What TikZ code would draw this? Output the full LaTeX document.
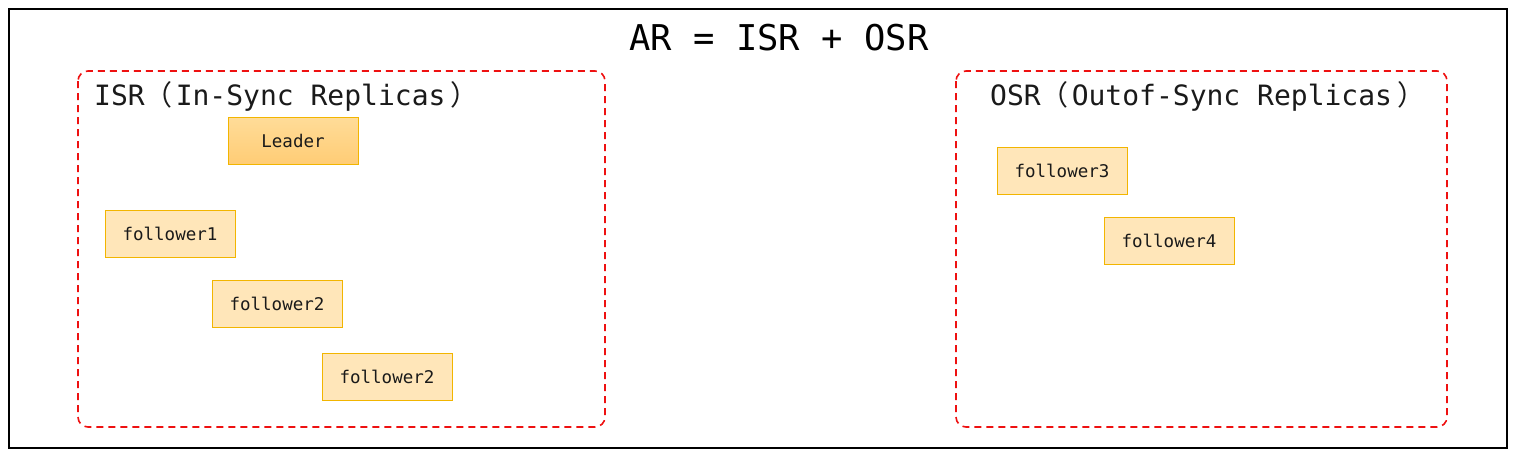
\documentclass[tikz,border=0pt]{standalone}
\usepackage{fontspec}
\setmonofont{DejaVu Sans Mono}
\newfontfamily\cjk{Noto Sans CJK SC}
\usepackage{xcolor}
\usetikzlibrary{positioning}

\definecolor{frameRed}{HTML}{EE1111}
\definecolor{boxEdge}{HTML}{F2B500}
\definecolor{boxFill}{HTML}{FFE6B9}
\definecolor{leadTop}{HTML}{FFDC98}
\definecolor{leadBot}{HTML}{FFCC75}
\definecolor{inkGray}{HTML}{1A1A1A}

\begin{document}
\begin{tikzpicture}[x=1pt,y=-1pt,
                    group box/.style={draw=frameRed,line width=1.6pt,dashed,dash pattern=on 7pt off 5pt,rounded corners=10pt},
                    replica/.style={rectangle,draw=boxEdge,fill=boxFill,line width=0.8pt,minimum width=130pt,minimum height=47pt,
                                    text=inkGray,font=\ttfamily\fontsize{17.5}{19}\selectfont},
                    lead node/.style={replica,top color=leadTop,bottom color=leadBot},
                    group label/.style={anchor=base west,inner sep=0pt,text=inkGray,font=\ttfamily\fontsize{28}{30}\selectfont}]
      \useasboundingbox (0,0) rectangle (1514,456);
      \draw[line width=1.6pt] (9,9) rectangle (1507,448);

      \node[anchor=base,inner sep=0pt,font=\ttfamily\fontsize{35.5}{40}\selectfont] (title) at (779,50) {AR = ISR + OSR};

      % in-sync group
      \draw[group box] (78,71) rectangle (605,427);
      \node[group label] (isr) at (94,105) {ISR{\cjk （}\hspace{3pt}In-Sync Replicas\hspace{5pt}{\cjk ）}};
      \node[lead node] (leader) at (293,141) {Leader};
      \node[replica] (f1) at (170,234) {follower1};
      \node[replica] (f2) at (277,304) {follower2};
      \node[replica] (f2b) at (387,377) {follower2};

      % out-of-sync group
      \draw[group box] (956,71) rectangle (1447,427);
      \node[group label] (osr) at (990,105) {OSR{\cjk （}\hspace{3pt}Outof-Sync Replicas\hspace{5pt}{\cjk ）}};
      \node[replica] (f3) at (1062,171) {follower3};
      \node[replica] (f4) at (1169,241) {follower4};
    \end{tikzpicture}
\end{document}
